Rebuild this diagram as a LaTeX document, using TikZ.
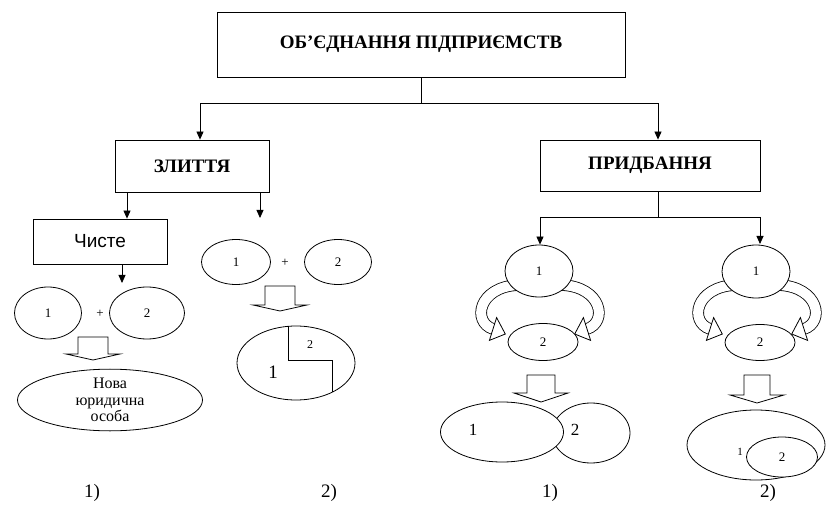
\documentclass[tikz,border=0pt]{standalone}
\usepackage{fontspec}
\setmainfont{Liberation Serif}
\newfontfamily\sansf{Liberation Sans}
\usetikzlibrary{arrows.meta,shapes.geometric}
\newcommand\fsz[2]{\fontsize{#1}{#2}\selectfont}
% block arrow: x, ytop, yheadbase, ytip, shaft half width, head half width
\newcommand\blockarrow[6]{%
  \draw[ln,fill=white] (#1-#5,#2) -- (#1+#5,#2) -- (#1+#5,#3) -- (#1+#6,#3)
    -- (#1,#4) -- (#1-#6,#3) -- (#1-#5,#3) -- cycle;}
% pair of hollow curved arrows for an acquisition column (left column coordinates)
\newcommand\curvedpair{%
  \draw[band] (518,285) .. controls (478,287) and (472,322) .. (493,329);
  \draw[ln,fill=white] (489.4,340.4) -- (505.3,334) -- (496.6,317.6) -- cycle;
  \draw[band] (562,285) .. controls (602,287) and (608,322) .. (587,329);
  \draw[ln,fill=white] (590.6,340.4) -- (574.7,334) -- (583.4,317.6) -- cycle;}
\tikzset{
  ln/.style={line width=0.8pt},
  box/.style={draw,ln,rectangle,inner sep=0pt,fill=white},
  ell/.style={draw,ln,ellipse,inner sep=0pt,fill=white},
  arr/.style={ln,-{Triangle[length=8pt,width=7pt]}},
  band/.style={ln,double=white,double distance=10pt},
  title/.style={font=\bfseries\fsz{19}{22}},
  num/.style={font=\fsz{13}{15}},
  lab/.style={font=\fsz{19}{22}},
}
\begin{document}
\begin{tikzpicture}[x=1pt,y=-1pt]
\useasboundingbox (0,0) rectangle (826,510);

% top level
\node[box,title,minimum width=408pt,minimum height=65pt] (top) at (421,44.5) {ОБ’ЄДНАННЯ ПІДПРИЄМСТВ};
\node[box,title,minimum width=154pt,minimum height=52pt] (zl) at (192,166) {ЗЛИТТЯ};
\node[box,title,minimum width=220pt,minimum height=51pt] (pr) at (650,165.5) {ПРИДБАННЯ};

\coordinate (j1) at (top.south |- 0,103);
\draw[ln] (top.south) -- (j1);
\draw[arr] (j1) -| (zl.north -| 200,0);
\draw[arr] (j1) -| (pr.north -| 658,0);

% ---- merger, variant 1
\node[box,font=\sansf\fsz{19}{22},minimum width=134pt,minimum height=45pt] (ch) at (100,241.5) {Чисте};
\draw[arr] (zl.south -| 127,0) -- (ch.north -| 127,0);
\coordinate (chend) at (122,283);
\draw[arr] (ch.south -| 122,0) -- (chend);

\node[ell,num,minimum width=67pt,minimum height=52pt] (a1) at (48,313) {1};
\node[ell,num,minimum width=75pt,minimum height=52pt] (a2) at (147,313) {2};
\node[num] (aplus) at (100,314) {+};
\blockarrow{93}{337}{354}{360}{15}{27}
\node[ell,minimum width=185pt,minimum height=60pt,align=center,font=\fsz{16}{16.5}] (nova) at (110,400) {Нова\\юридична\\особа};

% ---- merger, variant 2
\coordinate (zlend) at (260,218);
\draw[arr] (zl.south -| 260,0) -- (zlend);
\node[ell,num,minimum width=69pt,minimum height=45pt] (b1) at (236,262) {1};
\node[ell,num,minimum width=67pt,minimum height=45pt] (b2) at (338,262) {2};
\node[num] (bplus) at (285,263) {+};
\blockarrow{280}{286}{305}{311}{15}{27}
\node[ell,minimum width=118pt,minimum height=74pt] (big) at (296,363) {};
\draw[ln] (288,326.3) -- (288,360) -- (332,360) -- (332,392.3);
\node[font=\fsz{12}{14}] (bb2) at (310,345) {2};
\node[font=\fsz{19}{22}] (bb1) at (273,372) {1};

% ---- acquisition
\draw[ln] (pr.south -| 658,0) -- (658,217) coordinate (j2);
\draw[ln] (540,217) -- (760,217);

% column 1
\curvedpair
\node[ell,num,minimum width=68pt,minimum height=52pt] (c1) at (539,271) {1};
\node[ell,num,minimum width=70pt,minimum height=37pt] (c2) at (543,342) {2};
\draw[arr] (540,217) -- (c1.north -| 540,0);
\blockarrow{541}{375}{393}{402}{14}{27}
\node[ell,minimum width=78pt,minimum height=60pt] (cB) at (591,433) {};
\node[ell,minimum width=123pt,minimum height=60pt] (cA) at (502,432) {};
\node[font=\fsz{17}{20}] (cA1) at (473,430) {1};
\node[font=\fsz{17}{20}] (cB2) at (575,430) {2};

% column 2
\begin{scope}[xshift=217pt]
\curvedpair
\end{scope}
\node[ell,num,minimum width=68pt,minimum height=53pt] (d1) at (756,271.5) {1};
\node[ell,num,minimum width=70pt,minimum height=36pt] (d2) at (760,342.5) {2};
\draw[arr] (760,217) -- (760,244);
\blockarrow{757}{375}{395}{403}{13}{27}
\node[ell,minimum width=138pt,minimum height=70pt] (dO) at (756,445) {};
\node[ell,num,minimum width=71pt,minimum height=40pt] (dI) at (782,457) {2};
\node[font=\fsz{11}{13}] (dO1) at (740,452) {1};

% bottom labels
\node[lab] (l1) at (92,493) {1)};
\node[lab] (l2) at (329,493) {2)};
\node[lab] (l3) at (550,493) {1)};
\node[lab] (l4) at (768,493) {2)};
\end{tikzpicture}
\end{document}
